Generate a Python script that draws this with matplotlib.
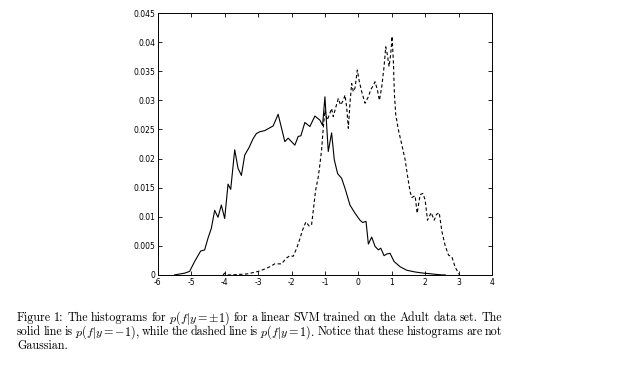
import numpy as np
import matplotlib
matplotlib.use("Agg")
import matplotlib.pyplot as plt

plt.rcParams['axes.unicode_minus'] = False
plt.rcParams['mathtext.fontset'] = 'cm'

# solid line: p(f|y=-1)
neg_x = [-5.5, -5.2, -5.05, -4.9, -4.72, -4.6, -4.5, -4.4, -4.3, -4.2, -4.1, -4.0,
         -3.9, -3.82, -3.7, -3.6, -3.5, -3.4, -3.27, -3.15, -3.05, -2.95, -2.8,
         -2.55, -2.4, -2.2, -2.1, -1.9, -1.8, -1.72, -1.6, -1.45, -1.3, -1.15,
         -1.07, -1.0, -0.9, -0.8, -0.72, -0.62, -0.5, -0.4, -0.25, -0.1, 0.05,
         0.13, 0.23, 0.3, 0.4, 0.5, 0.6, 0.67, 0.77, 0.85, 0.95, 1.07, 1.25,
         1.45, 1.7, 1.95, 2.15, 2.3, 2.5, 2.6]
neg_y = [0.0, 0.0003, 0.0006, 0.0023, 0.0041, 0.0043, 0.0063, 0.008, 0.0111,
         0.0099, 0.012, 0.0097, 0.0156, 0.0147, 0.0215, 0.0183, 0.0171, 0.0206,
         0.0219, 0.0234, 0.0243, 0.0246, 0.0248, 0.0256, 0.0276, 0.0229, 0.0235,
         0.0223, 0.0238, 0.0239, 0.0262, 0.0255, 0.0273, 0.0266, 0.0257, 0.0306,
         0.0212, 0.0244, 0.0198, 0.0174, 0.0166, 0.0149, 0.012, 0.0106, 0.0094,
         0.009, 0.0092, 0.0053, 0.0065, 0.0049, 0.0043, 0.0046, 0.0033, 0.0036,
         0.0037, 0.0023, 0.0014, 0.0008, 0.0005, 0.0003, 0.0002, 0.0001, 0.0, 0.0]

# dashed line: p(f|y=1)
pos_x = [-4.05, -4.0, -3.9, -3.75, -3.6, -3.45, -3.3, -3.15, -3.0, -2.85, -2.65,
         -2.5, -2.3, -2.15, -2.05, -1.95, -1.85, -1.75, -1.67, -1.57, -1.47, -1.4,
         -1.35, -1.28, -1.2, -1.15, -1.1, -1.05, -1.0, -0.93, -0.85, -0.8, -0.75,
         -0.67, -0.6, -0.53, -0.45, -0.4, -0.35, -0.3, -0.25, -0.2, -0.15, -0.1,
         -0.03, 0.03, 0.1, 0.2, 0.3, 0.37, 0.45, 0.5, 0.57, 0.63, 0.7, 0.77, 0.82,
         0.87, 0.92, 0.97, 1.01, 1.05, 1.08, 1.12, 1.2, 1.3, 1.4, 1.47, 1.55, 1.6,
         1.7, 1.76, 1.85, 1.93, 2.0, 2.07, 2.18, 2.27, 2.34, 2.42, 2.5, 2.6, 2.7,
         2.8, 2.9, 3.0, 3.03]
pos_y = [0.0, 0.0003, 0.0, 0.0, 0.0001, 0.0001, 0.0002, 0.0004, 0.0006, 0.0009,
         0.0014, 0.0019, 0.0019, 0.0029, 0.0033, 0.0032, 0.0045, 0.0062, 0.0077,
         0.0091, 0.0084, 0.0086, 0.011, 0.0145, 0.0168, 0.019, 0.0215, 0.0252,
         0.0283, 0.0266, 0.0278, 0.0286, 0.0272, 0.0289, 0.0303, 0.0292, 0.03,
         0.0309, 0.0289, 0.0252, 0.0295, 0.0329, 0.0315, 0.0321, 0.0352, 0.0332,
         0.0315, 0.0295, 0.0306, 0.0318, 0.0326, 0.0332, 0.0318, 0.03, 0.0323,
         0.0358, 0.0392, 0.0378, 0.0358, 0.038, 0.041, 0.0365, 0.031, 0.0275,
         0.0249, 0.0224, 0.0198, 0.0171, 0.0143, 0.0133, 0.0136, 0.0106, 0.0138,
         0.014, 0.0129, 0.0094, 0.0107, 0.0094, 0.0104, 0.0107, 0.0075, 0.005,
         0.0034, 0.0031, 0.0013, 0.0003, 0.0]

x_ticks = [-6, -5, -4, -3, -2, -1, 0, 1, 2, 3, 4]
y_ticks = [0, 0.005, 0.01, 0.015, 0.02, 0.025, 0.03, 0.035, 0.04, 0.045]
y_labels = ['0', '0.005', '0.01', '0.015', '0.02', '0.025', '0.03', '0.035', '0.04', '0.045']

# caption lines, split into words; the first two are justified
caption = [
    ["Figure", "1:", "The", "histograms", "for", r"$p(f|y=\pm1)$", "for", "a", "linear",
     "SVM", "trained", "on", "the", "Adult", "data", "set.", "The"],
    ["solid", "line", "is", r"$p(f|y=-1)$,", "while", "the", "dashed", "line", "is",
     r"$p(f|y=1)$.", "Notice", "that", "these", "histograms", "are", "not"],
    ["Gaussian."],
]

fig = plt.figure(figsize=(6.34, 3.73), dpi=100)
ax = fig.add_axes([0.249, 0.263, 0.527, 0.702])

ax.plot(neg_x, neg_y, color='black', lw=0.8)
ax.plot(pos_x, pos_y, color='black', lw=0.8, linestyle=(0, (3, 2.2)))

ax.set_xlim(-6, 4)
ax.set_ylim(0, 0.045)
ax.set_xticks(x_ticks)
ax.set_yticks(y_ticks)
ax.set_yticklabels(y_labels)
ax.tick_params(direction='in', length=3, width=0.6, labelsize=5.5, pad=2,
               top=True, right=True)
for s in ax.spines.values():
    s.set_linewidth(0.7)

W = 634.0
x0, x1 = 17.0, 502.0
ys = [0.147, 0.110, 0.072]
fig.canvas.draw()
renderer = fig.canvas.get_renderer()
for li, (words, y) in enumerate(zip(caption, ys)):
    texts = [fig.text(0, y, w, fontsize=8.7, family='cmr10', va='center', ha='left')
             for w in words]
    widths = [t.get_window_extent(renderer).width for t in texts]
    if li < 2 and len(words) > 1:
        gap = (x1 - x0 - sum(widths)) / (len(words) - 1)
    else:
        gap = 3.0
    pos = x0
    for t, w in zip(texts, widths):
        t.set_x(pos / W)
        pos += w + gap

fig.savefig('out.png', dpi=100)
